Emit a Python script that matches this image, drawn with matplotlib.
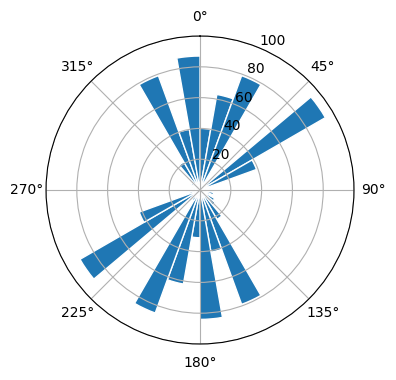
import numpy as np
import matplotlib
matplotlib.use("Agg")
import matplotlib.pyplot as plt

# bin start angles (degrees) and bar heights
bin_starts_deg = list(range(0, 360, 10))
values = [40, 63, 79, 4, 7, 94, 39, 6, 3,
          3, 9, 7, 11, 13, 22, 79, 41, 84,
          31, 62, 85, 8, 6, 90, 42, 7, 5,
          3, 4, 6, 7, 5, 21, 79, 40, 87]
bin_width_deg = 10
r_ticks = [20, 40, 60, 80, 100]

fig = plt.figure(figsize=(3.96, 3.80), dpi=100)
ax = fig.add_axes([0.1162, 0.0947, 0.7778, 0.8105], projection='polar')
ax.set_theta_zero_location('N')
ax.set_theta_direction(-1)
ax.bar(np.deg2rad(bin_starts_deg), values, width=np.deg2rad(bin_width_deg),
       align='edge', color='#1f77b4', edgecolor='white')
ax.set_ylim(0, 100)
ax.set_yticks(r_ticks)
ax.grid(True)
fig.savefig('out.png', dpi=100)
